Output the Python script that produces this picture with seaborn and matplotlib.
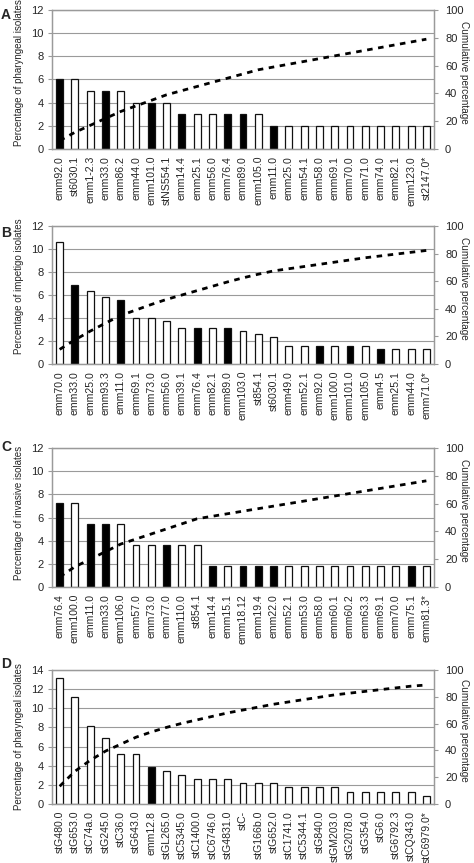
import numpy as np
import pandas as pd
import matplotlib
matplotlib.use("Agg")
import matplotlib.pyplot as plt
import seaborn as sns

# ---------------- data ----------------
a_types = ["emm92.0", "st6030.1", "emm1-2.3", "emm33.0", "emm86.2", "emm44.0", "emm101.0",
           "stNS554.1", "emm14.4", "emm25.1", "emm56.0", "emm76.4", "emm89.0", "emm105.0",
           "emm11.0", "emm25.0", "emm54.1", "emm58.0", "emm69.1", "emm70.0", "emm71.0",
           "emm74.0", "emm82.1", "emm123.0", "st2147.0*"]
a_values = [6, 6, 5, 5, 5, 4, 4, 4, 3, 3, 3, 3, 3, 3, 2, 2, 2, 2, 2, 2, 2, 2, 2, 2, 2]
a_black = [1, 0, 0, 1, 0, 0, 1, 0, 1, 0, 0, 1, 1, 0, 1, 0, 0, 0, 0, 0, 0, 0, 0, 0, 0]

b_types = ["emm70.0", "emm33.0", "emm25.0", "emm93.3", "emm11.0", "emm69.1", "emm73.0",
           "emm56.0", "emm39.1", "emm76.4", "emm82.1", "emm89.0", "emm103.0", "st854.1",
           "st6030.1", "emm49.0", "emm52.1", "emm92.0", "emm100.0", "emm101.0", "emm105.0",
           "emm4.5", "emm25.1", "emm44.0", "emm71.0*"]
b_values = [10.58, 6.88, 6.35, 5.82, 5.56, 3.97, 3.97, 3.70, 3.17, 3.17, 3.17, 3.17, 2.91,
            2.65, 2.38, 1.59, 1.59, 1.59, 1.59, 1.59, 1.59, 1.32, 1.32, 1.32, 1.32]
b_black = [0, 1, 0, 0, 1, 0, 0, 0, 0, 1, 0, 1, 0, 0, 0, 0, 0, 1, 0, 1, 0, 1, 0, 0, 0]

c_types = ["emm76.4", "emm100.0", "emm11.0", "emm33.0", "emm106.0", "emm57.0", "emm73.0",
           "emm77.0", "emm110.0", "st854.1", "emm14.4", "emm15.1", "emm18.12", "emm19.4",
           "emm22.0", "emm52.1", "emm53.0", "emm58.0", "emm60.1", "emm60.2", "emm63.3",
           "emm69.1", "emm70.0", "emm75.1", "emm81.3*"]
c_values = [7.27, 7.27, 5.45, 5.45, 5.45, 3.64, 3.64, 3.64, 3.64, 3.64, 1.82, 1.82, 1.82,
            1.82, 1.82, 1.82, 1.82, 1.82, 1.82, 1.82, 1.82, 1.82, 1.82, 1.82, 1.82]
c_black = [1, 0, 1, 1, 0, 0, 0, 1, 0, 0, 1, 0, 1, 1, 1, 0, 0, 0, 0, 0, 0, 0, 0, 1, 0]

d_types = ["stG480.0", "stG653.0", "stC74a.0", "stG245.0", "stC36.0", "stG643.0", "emm12.8",
           "stGL265.0", "stC5345.0", "stC1400.0", "stC6746.0", "stG4831.0", "stC-",
           "stG166b.0", "stG652.0", "stC1741.0", "stC5344.1", "stG840.0", "stGM203.0",
           "stG2078.0", "stG354.0", "stG6.0", "stG6792.3", "stCQ343.0", "stC6979.0*"]
d_values = [13.2, 11.2, 8.2, 6.85, 5.2, 5.2, 3.9, 3.45, 3.0, 2.6, 2.6, 2.6, 2.15, 2.15,
            2.15, 1.75, 1.75, 1.75, 1.75, 1.3, 1.3, 1.3, 1.3, 1.3, 0.85]
d_black = [0, 0, 0, 0, 0, 0, 1, 0, 0, 0, 0, 0, 0, 0, 0, 0, 0, 0, 0, 0, 0, 0, 0, 0, 0]

panel_letters = ["A", "B", "C", "D"]
left_labels = ["Percentage of pharyngeal isolates", "Percentage of impetigo isolates",
               "Percentage of invasive isolates", "Percentage of pharyngeal isolates"]
right_label = "Cumulative percentage"
left_max = [12, 12, 12, 14]
right_ticks = [0, 20, 40, 60, 80, 100]

panels = [(a_types, a_values, a_black), (b_types, b_values, b_black),
          (c_types, c_values, c_black), (d_types, d_values, d_black)]

# ---------------- style ----------------
sns.set_style("white")
plt.rcParams["font.family"] = ["Liberation Sans", "DejaVu Sans"]

W, H = 474, 863
fig = plt.figure(figsize=(W / 100, H / 100), dpi=100)

# axes boxes in pixels: (left, top, right, bottom)
boxes = [(52, 10, 434, 149), (52, 226, 434, 364), (52, 448, 434, 587), (52, 670, 434, 804)]
letter_y = [8, 226, 440, 657]
label_centre = [73, 286, 513, 737]
GRAY = "#9a9a9a"

for i, ((types, vals, blk), box) in enumerate(zip(panels, boxes)):
    l, t, r, b = box
    ax = fig.add_axes([l / W, 1 - b / H, (r - l) / W, (b - t) / H])
    df = pd.DataFrame({"type": types, "value": vals,
                       "kind": ["black" if k else "white" for k in blk]})
    sns.barplot(data=df, x="type", y="value", hue="kind",
                palette={"black": "black", "white": "white"},
                edgecolor="#111111", linewidth=0.9, width=0.45, dodge=False,
                legend=False, ax=ax)
    n = len(types)
    ax.set_xlim(-0.5, n - 0.5)
    ax.set_ylim(0, left_max[i])
    ax.set_yticks(np.arange(0, left_max[i] + 1, 2))
    ax.set_yticklabels([str(v) for v in range(0, left_max[i] + 1, 2)], fontsize=8)
    ax.yaxis.grid(True, color=GRAY, linewidth=0.8)
    ax.set_axisbelow(True)
    ax.set_xlabel("")
    ax.set_ylabel(left_labels[i], fontsize=7.0)
    yc = (b - label_centre[i]) / (b - t)
    ax.yaxis.set_label_coords(-28 / (r - l), yc)
    ax.set_xticks(range(n))
    ax.set_xticklabels(types, rotation=90, fontsize=7.6)
    ax.set_xticks(np.arange(-0.5, n, 1), minor=True)
    ax.tick_params(axis="x", which="major", length=0, pad=5)
    ax.tick_params(axis="x", which="minor", length=3, color=GRAY, width=0.8)
    ax.tick_params(axis="y", length=3, color=GRAY, width=0.8, pad=3)
    for s in ax.spines.values():
        s.set_color(GRAY)
        s.set_linewidth(0.9)

    ax2 = ax.twinx()
    cum = np.cumsum(vals)
    sns.lineplot(x=np.arange(n), y=cum, ax=ax2, color="black", linewidth=2.0)
    ax2.lines[0].set_linestyle((0, (2.0, 2.0)))
    ax2.set_xlim(-0.5, n - 0.5)
    ax2.set_ylim(0, 100)
    ax2.set_yticks(right_ticks)
    ax2.set_yticklabels([str(v) for v in right_ticks], fontsize=8)
    ax2.tick_params(axis="y", length=3, color=GRAY, width=0.8, pad=5)
    ax2.set_ylabel(right_label, fontsize=7.2, rotation=270)
    ax2.yaxis.set_label_coords(1 + 35 / (r - l), 0.55)
    ax2.grid(False)
    for s in ax2.spines.values():
        s.set_color(GRAY)
        s.set_linewidth(0.9)

    fig.text(1 / W, 1 - letter_y[i] / H, panel_letters[i], fontsize=10,
             fontweight="bold", va="top", ha="left")

fig.savefig("out.png", dpi=100)
